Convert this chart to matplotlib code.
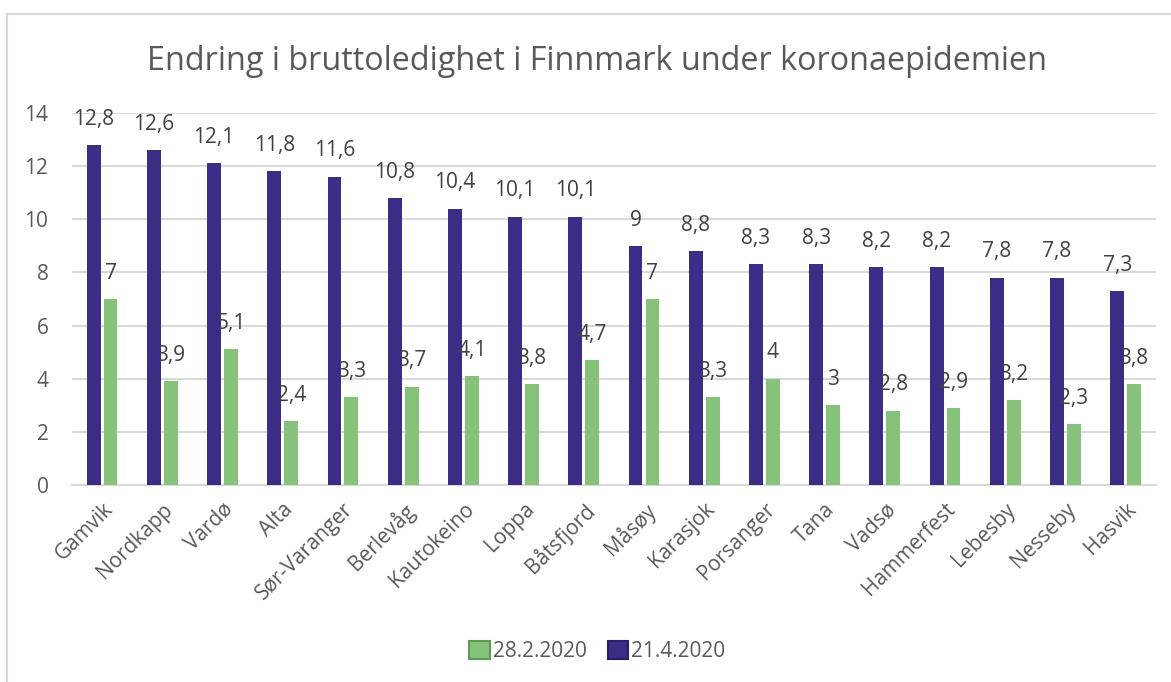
import matplotlib.pyplot as plt
import numpy as np
from matplotlib.lines import Line2D
from matplotlib.patches import Patch

plt.rcParams['font.family'] = ['Open Sans', 'DejaVu Sans']

kommuner = ["Gamvik", "Nordkapp", "Vardø", "Alta", "Sør-Varanger", "Berlevåg",
            "Kautokeino", "Loppa", "Båtsfjord", "Måsøy", "Karasjok", "Porsanger",
            "Tana", "Vadsø", "Hammerfest", "Lebesby", "Nesseby", "Hasvik"]
april = [12.8, 12.6, 12.1, 11.8, 11.6, 10.8, 10.4, 10.1, 10.1, 9.0, 8.8, 8.3,
         8.3, 8.2, 8.2, 7.8, 7.8, 7.3]
februar = [7.0, 3.9, 5.1, 2.4, 3.3, 3.7, 4.1, 3.8, 4.7, 7.0, 3.3, 4.0,
           3.0, 2.8, 2.9, 3.2, 2.3, 3.8]
yticks = [0, 2, 4, 6, 8, 10, 12, 14]

purple = "#3b2d85"
green = "#86c27a"
text_grey = "#595959"


def fmt(v):
    s = f"{v:.1f}".replace(".", ",")
    return s[:-2] if s.endswith(",0") else s


fig = plt.figure(figsize=(11.71, 6.82), dpi=100)
ax = fig.add_axes([0.0615, 0.2889, 0.9255, 0.5454])

x = np.arange(len(kommuner))
w = 0.23
off = 0.14
b1 = ax.bar(x - off, april, w, color=purple, zorder=3)
b2 = ax.bar(x + off, februar, w, color=green, zorder=3)

for bars, vals in ((b1, april), (b2, februar)):
    for rect, v in zip(bars, vals):
        ax.annotate(fmt(v), (rect.get_x() + rect.get_width() / 2, v),
                    xytext=(0, 11), textcoords="offset points",
                    ha="center", va="bottom", fontsize=15, color="#404040",
                    zorder=4)

ax.set_ylim(0, 14)
ax.set_xlim(-0.5, len(kommuner) - 0.5)
ax.set_yticks(yticks)
ax.set_yticklabels([str(t) for t in yticks])
ax.yaxis.grid(True, color="#d9d9d9", lw=1.5, zorder=0)
ax.set_xticks(x)
ax.set_xticklabels(kommuner, rotation=45, ha="right", rotation_mode="anchor")
ax.tick_params(axis="both", length=0, labelsize=15, colors=text_grey)
ax.tick_params(axis="y", pad=17)
ax.tick_params(axis="x", pad=10)
for s in ("top", "right", "left"):
    ax.spines[s].set_visible(False)
ax.spines["bottom"].set_color("#d9d9d9")
ax.spines["bottom"].set_linewidth(1.5)

fig.text(0.51, 0.91, "Endring i bruttoledighet i Finnmark under koronaepidemien",
         ha="center", va="center", fontsize=23.3, color=text_grey)

handles = [Patch(facecolor=green, edgecolor="#5f9a55", lw=1.5, label="28.2.2020"),
           Patch(facecolor=purple, edgecolor="#2a1f66", lw=1.5, label="21.4.2020")]
fig.legend(handles=handles, loc="center", bbox_to_anchor=(0.51, 0.045),
           ncol=2, frameon=False, fontsize=15, handlelength=1.0,
           handleheight=1.0, handletextpad=0.15, columnspacing=1.0,
           labelcolor=text_grey)

# chart frame (only left and top edges are in view)
fig.add_artist(Line2D([0.006, 0.006], [0, 0.979], color="#d9d9d9", lw=1.5))
fig.add_artist(Line2D([0.006, 1], [0.979, 0.979], color="#d9d9d9", lw=1.5))

fig.savefig("out.png", dpi=100)
